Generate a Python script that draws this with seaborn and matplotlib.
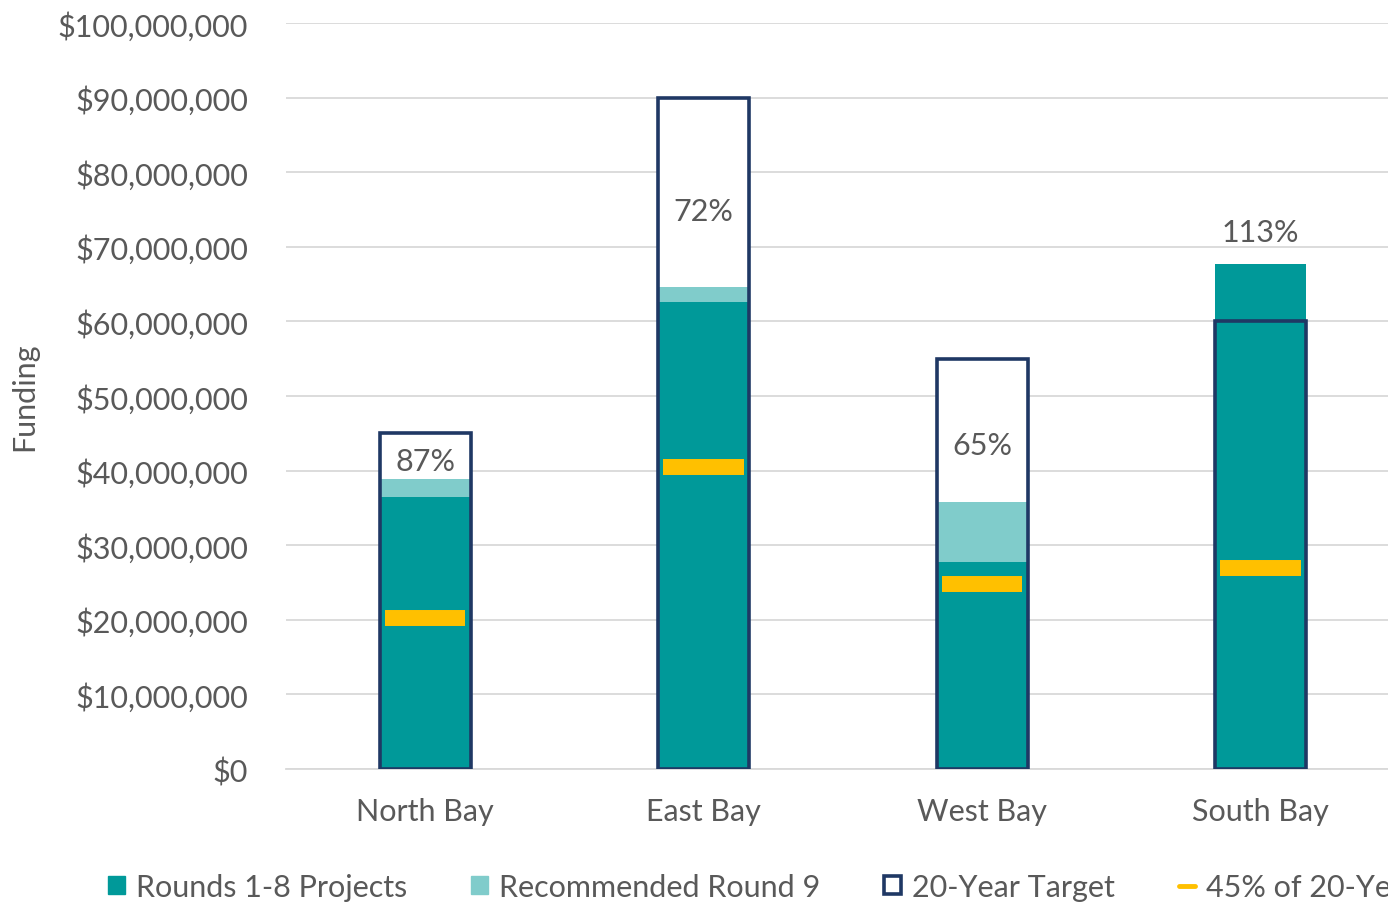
import matplotlib
matplotlib.use("Agg")
import matplotlib.pyplot as plt
import seaborn as sns
import pandas as pd
from matplotlib.patches import Patch
from matplotlib.lines import Line2D
from matplotlib.ticker import FuncFormatter, MultipleLocator

# data (in dollars)
regions = ["North Bay", "East Bay", "West Bay", "South Bay"]
rounds_1_8 = [36.5e6, 62.6e6, 27.7e6, 67.7e6]
round_9 = [2.4e6, 2.0e6, 8.1e6, 0.0]
target_20yr = [45e6, 90e6, 55e6, 60e6]
pct_labels = ["87%", "72%", "65%", "113%"]

TEAL = "#009999"
LIGHT_TEAL = "#80CCCB"
NAVY = "#1F3864"
YELLOW = "#FFC000"
GREY_TXT = "#595959"
GRID = "#D9D9D9"
FS = 22

sns.set_style("white")
plt.rcParams["font.family"] = ["Lato", "DejaVu Sans"]

df = pd.DataFrame({
    "region": regions,
    "rounds": rounds_1_8,
    "r9": round_9,
    "target": target_20yr,
})
df["funded"] = df["rounds"] + df["r9"]
df["mark45"] = df["target"] * 0.45

fig = plt.figure(figsize=(13.88, 9.04), dpi=100)
ax = fig.add_axes([0.2059, 0.1482, 0.8026, 0.8252])

bw = 0.327
# white target box (hides gridlines inside)
sns.barplot(data=df, x="region", y="target", order=regions, color="white",
            width=bw, errorbar=None, ax=ax, saturation=1, linewidth=0, zorder=2)
# stacked funding
sns.barplot(data=df, x="region", y="funded", order=regions, color=LIGHT_TEAL,
            width=bw, errorbar=None, ax=ax, saturation=1, linewidth=0, zorder=3)
sns.barplot(data=df, x="region", y="rounds", order=regions, color=TEAL,
            width=bw, errorbar=None, ax=ax, saturation=1, linewidth=0, zorder=4)
# target outline on top
sns.barplot(data=df, x="region", y="target", order=regions, fill=False,
            edgecolor=NAVY, width=bw, errorbar=None, ax=ax, linewidth=2.6, zorder=6)

xs = range(len(regions))
ax.hlines(df["mark45"], [x - 0.144 for x in xs], [x + 0.144 for x in xs],
          colors=YELLOW, linewidth=11.5, zorder=5, capstyle="butt")

for i, row in df.iterrows():
    if row["funded"] < row["target"]:
        ax.text(i, row["funded"] + 0.4 * (row["target"] - row["funded"]), pct_labels[i],
                ha="center", va="center", fontsize=FS, color=GREY_TXT, zorder=7)
    else:
        ax.annotate(pct_labels[i], (i, row["funded"]), xytext=(0, 23),
                    textcoords="offset points", ha="center", va="center",
                    fontsize=FS, color=GREY_TXT, zorder=7)

ax.set_ylim(0, 100e6)
ax.set_xlim(-0.5, 3.5)
ax.yaxis.set_major_locator(MultipleLocator(10e6))
ax.yaxis.set_major_formatter(FuncFormatter(lambda v, p: f"${v:,.0f}"))
ax.set_axisbelow(True)
ax.grid(axis="y", color=GRID, linewidth=1.3, zorder=0)
for s in ["top", "right", "left"]:
    ax.spines[s].set_visible(False)
ax.spines["bottom"].set_color(GRID)
ax.spines["bottom"].set_linewidth(1.3)
ax.tick_params(axis="y", length=0, pad=27, labelsize=FS, labelcolor=GREY_TXT)
ax.tick_params(axis="x", length=0, pad=20, labelsize=FS, labelcolor=GREY_TXT)
ax.set_xlabel("")
ax.set_ylabel("Funding", fontsize=FS, color=GREY_TXT)
ax.yaxis.set_label_coords(-0.222, 0.5)

handles = [
    Patch(facecolor=TEAL, edgecolor=TEAL),
    Patch(facecolor=LIGHT_TEAL, edgecolor=LIGHT_TEAL),
    Patch(facecolor="white", edgecolor=NAVY, linewidth=2.6),
    Line2D([0], [0], color=YELLOW, linewidth=3.5),
]
labels = ["Rounds 1-8 Projects", "Recommended Round 9", "20-Year Target",
          "45% of 20-Year Target"]
leg = fig.legend(handles, labels, loc="center left", bbox_to_anchor=(0.078, 0.018),
                 ncol=4, frameon=False, fontsize=FS, handlelength=0.55,
                 handleheight=0.55, handletextpad=0.35, columnspacing=2.1,
                 borderaxespad=0, borderpad=0)
for t in leg.get_texts():
    t.set_color(GREY_TXT)

fig.savefig("out.png", dpi=100)
